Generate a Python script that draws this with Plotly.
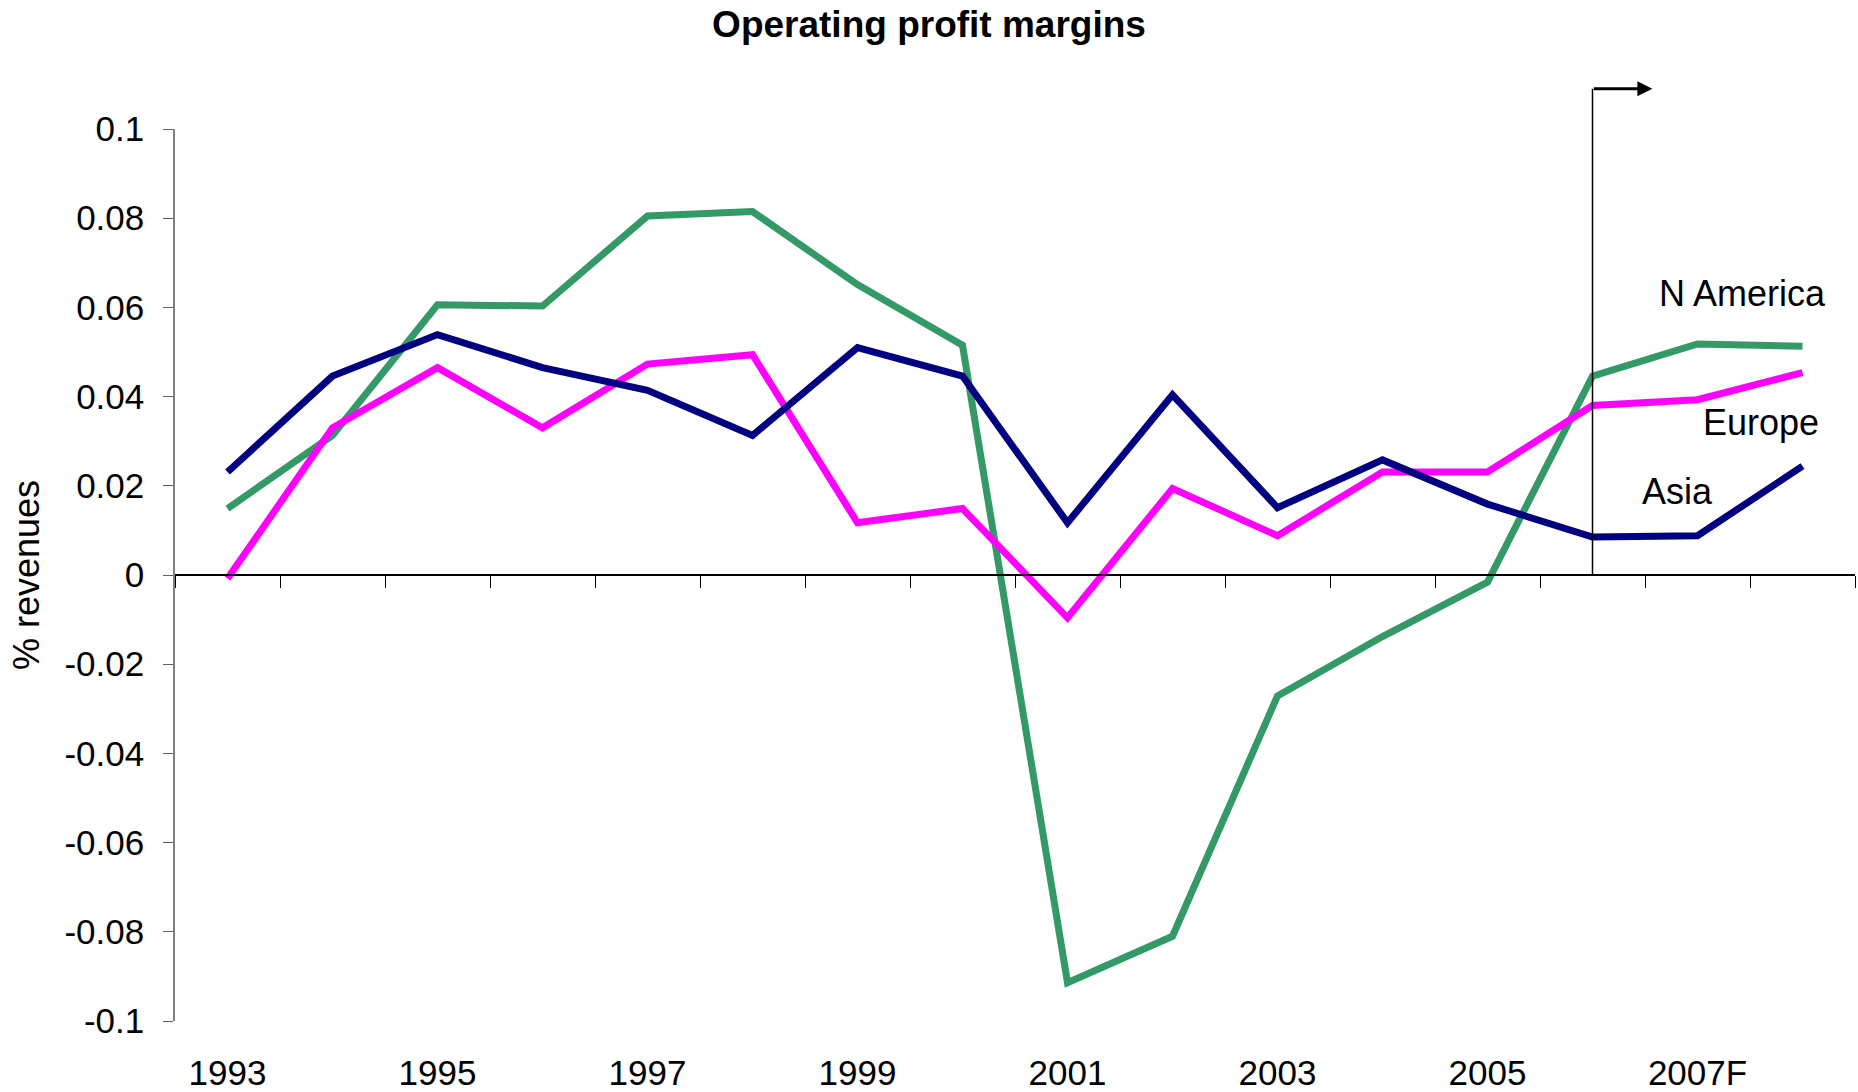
import plotly.graph_objects as go

categories = ["1993", "1994", "1995", "1996", "1997", "1998", "1999", "2000",
              "2001", "2002", "2003", "2004", "2005", "2006", "2007F", "2008F"]
asia = [0.0231, 0.0446, 0.0539, 0.0465, 0.0414, 0.0313, 0.0510, 0.0446,
        0.0117, 0.0404, 0.0151, 0.0258, 0.0159, 0.0085, 0.0088, 0.0244]
europe = [-0.0008, 0.0330, 0.0465, 0.0330, 0.0473, 0.0494, 0.0117, 0.0149,
          -0.0096, 0.0194, 0.0088, 0.0231, 0.0231, 0.0380, 0.0393, 0.0454]
n_america = [0.0149, 0.0313, 0.0606, 0.0603, 0.0805, 0.0815, 0.0651, 0.0515,
             -0.0914, -0.0810, -0.0271, -0.0138, -0.0016, 0.0446, 0.0518, 0.0513]
y_ticks = [-0.1, -0.08, -0.06, -0.04, -0.02, 0, 0.02, 0.04, 0.06, 0.08, 0.1]
y_tick_text = ["-0.1", "-0.08", "-0.06", "-0.04", "-0.02", "0", "0.02", "0.04", "0.06", "0.08", "0.1"]
x_tick_labels = categories[::2]
forecast_start = "2006"

FONT = "Liberation Sans, Arial, sans-serif"
FS = 35

fig = go.Figure()
fig.add_trace(go.Scatter(x=categories, y=n_america, mode="lines", name="N America",
                         line=dict(color="#339966", width=7)))
fig.add_trace(go.Scatter(x=categories, y=europe, mode="lines", name="Europe",
                         line=dict(color="#FF00FF", width=7)))
fig.add_trace(go.Scatter(x=categories, y=asia, mode="lines", name="Asia",
                         line=dict(color="#000080", width=7)))
# helper (empty) trace for the zero-line axis with boundary ticks
fig.add_trace(go.Scatter(x=[], y=[], xaxis="x2", yaxis="y", showlegend=False, hoverinfo="skip"))

n = len(categories)
fi = categories.index(forecast_start)

fig.update_layout(
    width=1858, height=1092,
    paper_bgcolor="white", plot_bgcolor="white",
    showlegend=False,
    margin=dict(l=175, r=3, t=129, b=71, autoexpand=False),
    font=dict(family=FONT, size=FS, color="black"),
    title=dict(text="<b>Operating profit margins</b>", x=0.5, xref="container",
               y=0.978, yref="container", yanchor="middle", xanchor="center",
               font=dict(family=FONT, size=37, color="black")),
    xaxis=dict(type="category", range=[-0.5, n - 0.5], tickmode="array",
               tickvals=x_tick_labels, ticktext=x_tick_labels, ticks="",
               showline=False, showgrid=False, zeroline=False, automargin=False,
               ticklabelstandoff=28, tickfont=dict(size=FS)),
    xaxis2=dict(overlaying="x", anchor="free", position=0.5, type="linear",
                range=[-0.5, n - 0.5], tickmode="linear", tick0=-0.5, dtick=1,
                ticks="outside", ticklen=12, tickwidth=1, tickcolor="black",
                showline=True, linecolor="black", linewidth=1.5, automargin=False,
                showticklabels=False, showgrid=False, zeroline=False),
    yaxis=dict(range=[-0.1, 0.1], tickmode="array", tickvals=y_ticks, ticktext=y_tick_text,
               ticks="outside", ticklen=10, tickcolor="#606060", tickwidth=1,
               showline=True, linecolor="#808080", linewidth=1.5, automargin=False,
               showgrid=False, zeroline=False, ticklabelstandoff=12,
               tickfont=dict(size=FS),
               title=dict(text="% revenues", standoff=14, font=dict(size=36))),
)

# forecast divider line and arrow
fig.add_shape(type="line", xref="x", yref="paper", x0=fi, x1=fi, y0=0.5, y1=1.045,
              line=dict(color="black", width=1.5))
fig.add_annotation(x=fi + 0.57, y=1.045, xref="x", yref="paper", text="",
                   showarrow=True, axref="pixel", ayref="pixel", ax=-60, ay=0,
                   arrowhead=2, arrowsize=1, arrowwidth=3, arrowcolor="black")

# series labels
for txt, xx, yy in [("N America", 14.43, 0.0632), ("Europe", 14.6, 0.0343), ("Asia", 13.81, 0.0188)]:
    fig.add_annotation(x=xx, y=yy, xref="x", yref="y", text=txt, showarrow=False,
                       font=dict(family=FONT, size=36, color="black"),
                       xanchor="center", yanchor="middle")

fig.write_html("out.html", config={"displayModeBar": False},
               post_script="document.body.style.margin='0';document.body.style.overflow='hidden';")
